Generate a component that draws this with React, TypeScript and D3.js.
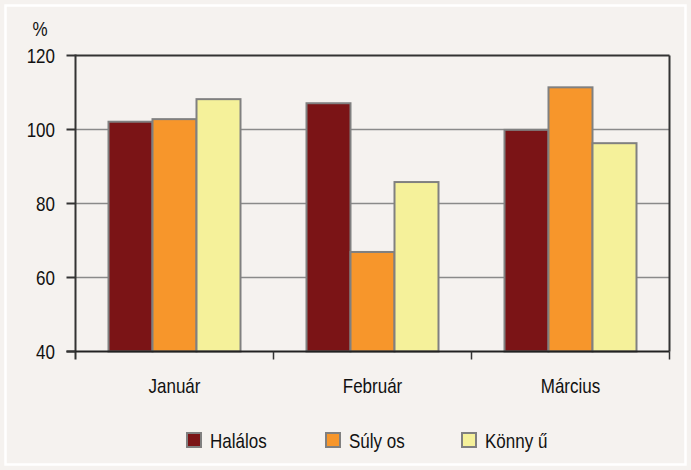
import React, { useEffect, useRef } from 'react';
import * as d3 from 'd3';

const months = ['Január', 'Február', 'Március'];
const series = ['Halálos', 'Súlyos', 'Könnyű'];
const legendLabels = ['Halálos', 'Súly os', 'Könny ű'];
const halalos = [102.1, 107.1, 99.9];
const sulyos = [102.8, 66.9, 111.4];
const konnyu = [108.2, 85.8, 96.3];
const yTicks = [40, 60, 80, 100, 120];
const colors = ['#7b1416', '#f7962b', '#f5f19a'];

export default function App() {
  const ref = useRef<SVGSVGElement>(null);

  useEffect(() => {
    if (!ref.current) return;
    const svg = d3.select(ref.current);
    svg.selectAll('*').remove();

    const W = 691, H = 470;
    const left = 75.5, right = 669.5, top = 55.5, bottom = 351.5;
    const font = '"Liberation Sans", Arial, sans-serif';
    const sx = 0.85;

    // condensed text helper
    const label = (sel: any, x: number, yy: number, txt: string, anchor: string) =>
      sel.append('text')
        .attr('transform', `translate(${x},${yy}) scale(${sx},1)`)
        .attr('text-anchor', anchor).attr('font-family', font).attr('font-size', 20).attr('fill', '#111')
        .text(txt);

    // background + white frame
    svg.append('rect').attr('width', W).attr('height', H).attr('fill', '#f5f2ef');
    svg.append('rect').attr('x', 5.5).attr('y', 5.5).attr('width', W - 11).attr('height', H - 11)
      .attr('fill', 'none').attr('stroke', '#ffffff').attr('stroke-width', 2.5);

    const x0 = d3.scaleBand().domain(months).range([left, right]).paddingInner(0).paddingOuter(0);
    const x1 = d3.scaleBand().domain(series).range([33, x0.bandwidth() - 33]);
    const y = d3.scaleLinear().domain([40, 120]).range([bottom, top]);

    // gridlines
    svg.append('g').selectAll('line').data(yTicks.filter(t => t > 40 && t < 120)).enter().append('line')
      .attr('x1', left).attr('x2', right)
      .attr('y1', d => y(d)).attr('y2', d => y(d))
      .attr('stroke', '#8a8a8a').attr('stroke-width', 1.5);

    // bars
    const data = months.map((m, i) => ({ m, vals: [halalos[i], sulyos[i], konnyu[i]] }));
    const g = svg.append('g').selectAll('g').data(data).enter().append('g')
      .attr('transform', d => `translate(${x0(d.m)},0)`);
    g.selectAll('rect').data(d => d.vals.map((v, j) => ({ s: series[j], v, j }))).enter().append('rect')
      .attr('x', d => x1(d.s)!)
      .attr('y', d => y(d.v))
      .attr('width', x1.bandwidth())
      .attr('height', d => bottom - y(d.v))
      .attr('fill', d => colors[d.j])
      .attr('stroke', '#808080').attr('stroke-width', 2);

    // frame: top and right border, axes
    svg.append('line').attr('x1', left).attr('x2', right).attr('y1', top).attr('y2', top)
      .attr('stroke', '#333').attr('stroke-width', 2);
    svg.append('line').attr('x1', right).attr('x2', right).attr('y1', top).attr('y2', bottom)
      .attr('stroke', '#333').attr('stroke-width', 2);
    svg.append('line').attr('x1', left).attr('x2', left).attr('y1', top - 1).attr('y2', bottom + 8)
      .attr('stroke', '#333').attr('stroke-width', 2);
    svg.append('line').attr('x1', left - 9).attr('x2', right).attr('y1', bottom).attr('y2', bottom)
      .attr('stroke', '#222').attr('stroke-width', 2);
    // y tick marks
    svg.append('g').selectAll('line').data(yTicks).enter().append('line')
      .attr('x1', left - 9).attr('x2', left)
      .attr('y1', d => y(d)).attr('y2', d => y(d))
      .attr('stroke', '#333').attr('stroke-width', 2);
    // x tick marks between categories
    svg.append('g').selectAll('line').data(months.slice(1)).enter().append('line')
      .attr('x1', d => x0(d)!).attr('x2', d => x0(d)!)
      .attr('y1', bottom).attr('y2', bottom + 8)
      .attr('stroke', '#333').attr('stroke-width', 1.5);
    svg.append('line').attr('x1', right).attr('x2', right).attr('y1', bottom).attr('y2', bottom + 8)
      .attr('stroke', '#333').attr('stroke-width', 1.5);

    // y labels
    yTicks.forEach(t => label(svg, 55, y(t) + 7, String(t), 'end'));
    label(svg, 40, 36, '%', 'middle');

    // x labels
    months.forEach(m => label(svg, x0(m)! + x0.bandwidth() / 2, 393, m, 'middle'));

    // legend
    const legX = [187, 326, 462];
    legendLabels.forEach((l, i) => {
      svg.append('rect').attr('x', legX[i]).attr('y', 433).attr('width', 14).attr('height', 14)
        .attr('fill', colors[i]).attr('stroke', '#808080').attr('stroke-width', 2);
      label(svg, legX[i] + 23, 447.5, l, 'start');
    });
  }, []);

  return (
    <div style={{ position: 'absolute', left: 0, top: 0 }}>
      <svg ref={ref} width={691} height={470} style={{ display: 'block' }} />
    </div>
  );
}
